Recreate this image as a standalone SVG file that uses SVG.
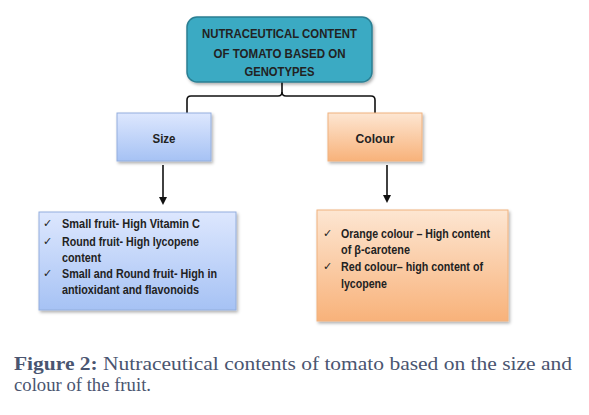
<svg xmlns="http://www.w3.org/2000/svg" width="589" height="415" viewBox="0 0 589 415">
<defs>
<linearGradient id="gBlue" x1="0" y1="0" x2="0" y2="1"><stop offset="0" stop-color="#DDE7FE"/><stop offset="1" stop-color="#A6C2F4"/></linearGradient>
<linearGradient id="gOrange" x1="0" y1="0" x2="0" y2="1"><stop offset="0" stop-color="#FDE6D2"/><stop offset="1" stop-color="#F8B27A"/></linearGradient>
<filter id="sh" x="-10%" y="-10%" width="130%" height="130%"><feDropShadow dx="1.5" dy="2" stdDeviation="1.5" flood-color="#000" flood-opacity="0.3"/></filter>
<marker id="arr" markerWidth="8" markerHeight="8" refX="4" refY="4" orient="auto" markerUnits="userSpaceOnUse"><path d="M0,0 L8,4 L0,8 Z" fill="#111"/></marker>
<style>
.box{font-family:"Liberation Sans",Arial,sans-serif;font-weight:bold;fill:#222;}
.hd{font-size:13px;text-anchor:middle;}
.it{font-size:12.5px;}
.ck{font-family:"DejaVu Sans",sans-serif;font-size:11px;fill:#222;}
.cap{font-family:"Liberation Serif","DejaVu Serif",serif;font-size:19px;fill:#4A5570;}
.ln{fill:none;stroke:#111;stroke-width:1.6;}
</style>
</defs>
<rect width="589" height="415" fill="#fff"/>
<g id="connectors">
<path class="ln" d="M282,82 V92 Q282,96 278,96 H191 Q187,96 187,100 V113"/>
<path class="ln" d="M282,92 Q282,96 286,96 H371 Q375,96 375,100 V113"/>
<line class="ln" x1="163" y1="165" x2="163" y2="201" marker-end="url(#arr)"/>
<line class="ln" x1="387" y1="165" x2="387" y2="199" marker-end="url(#arr)"/>
</g>
<g id="root">
<rect x="187" y="17" width="185" height="65" rx="10" fill="#3BAAC3" stroke="#2B7F93" stroke-width="1.5" filter="url(#sh)"/>
<text class="box hd" x="279.5" y="38" textLength="155" lengthAdjust="spacingAndGlyphs">NUTRACEUTICAL CONTENT</text>
<text class="box hd" x="279.5" y="57.5" textLength="132" lengthAdjust="spacingAndGlyphs">OF TOMATO BASED ON</text>
<text class="box hd" x="279.5" y="76" textLength="70" lengthAdjust="spacingAndGlyphs">GENOTYPES</text>
</g>
<g id="size">
<rect x="117" y="113" width="94" height="48" fill="url(#gBlue)" stroke="#93AEDD" stroke-width="1" filter="url(#sh)"/>
<text class="box hd" x="164" y="142.5" textLength="23" lengthAdjust="spacingAndGlyphs">Size</text>
</g>
<g id="colour">
<rect x="328" y="113" width="94" height="48" fill="url(#gOrange)" stroke="#F0B27F" stroke-width="1" filter="url(#sh)"/>
<text class="box hd" x="375" y="142.5" textLength="39" lengthAdjust="spacingAndGlyphs">Colour</text>
</g>
<g id="size-details">
<rect x="39" y="212" width="197" height="98" fill="url(#gBlue)" stroke="#93AEDD" stroke-width="1" filter="url(#sh)"/>
<text class="ck" x="43" y="227">✓</text>
<text class="box it" x="62" y="227.5" textLength="138" lengthAdjust="spacingAndGlyphs">Small fruit- High Vitamin C</text>
<text class="ck" x="43" y="245">✓</text>
<text class="box it" x="62" y="245.5" textLength="137" lengthAdjust="spacingAndGlyphs">Round fruit- High lycopene</text>
<text class="box it" x="62" y="261.5" textLength="39" lengthAdjust="spacingAndGlyphs">content</text>
<text class="ck" x="43" y="277">✓</text>
<text class="box it" x="62" y="277.5" textLength="155" lengthAdjust="spacingAndGlyphs">Small and Round fruit- High in</text>
<text class="box it" x="62" y="293.5" textLength="137" lengthAdjust="spacingAndGlyphs">antioxidant and flavonoids</text>
</g>
<g id="colour-details">
<rect x="317" y="210" width="191" height="111" fill="url(#gOrange)" stroke="#F0B27F" stroke-width="1" filter="url(#sh)"/>
<text class="ck" x="323" y="237">✓</text>
<text class="box it" x="341" y="237.5" textLength="149" lengthAdjust="spacingAndGlyphs">Orange colour – High content</text>
<text class="box it" x="341" y="253.5" textLength="69" lengthAdjust="spacingAndGlyphs">of β-carotene</text>
<text class="ck" x="323" y="270">✓</text>
<text class="box it" x="341" y="270.5" textLength="142" lengthAdjust="spacingAndGlyphs">Red colour– high content of</text>
<text class="box it" x="341" y="287.5" textLength="46" lengthAdjust="spacingAndGlyphs">lycopene</text>
</g>
<g id="caption">
<text class="cap" x="14" y="370" textLength="558" lengthAdjust="spacingAndGlyphs"><tspan font-weight="bold">Figure 2:</tspan> Nutraceutical contents of tomato based on the size and</text>
<text class="cap" x="14" y="391" textLength="137" lengthAdjust="spacingAndGlyphs">colour of the fruit.</text>
</g>
</svg>
